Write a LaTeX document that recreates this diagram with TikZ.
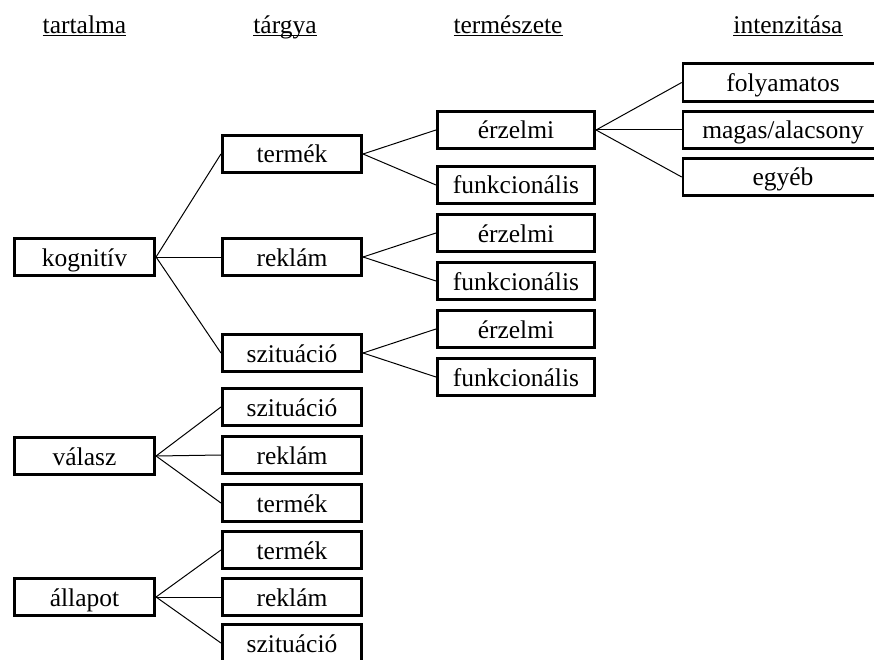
\documentclass[tikz,border=0pt]{standalone}
\usepackage{fontspec}
\setmainfont{Liberation Serif}
\usepackage{tikz}
\usetikzlibrary{arrows,shapes}
\tikzstyle{box}=[draw,rectangle,line width=2.6pt,minimum height=37.5pt,inner sep=0pt,text height=24pt,text depth=6pt,font=\fontsize{25.5}{30}\selectfont]
\tikzstyle{head}=[inner sep=0pt,anchor=base,font=\fontsize{25.5}{30}\selectfont]
\tikzstyle{edge} = [draw,line width=1pt,-]

\begin{document}
\begin{tikzpicture}[x=1pt,y=-1pt]
    \useasboundingbox (0,0) rectangle (874,660);
    % Headings of the four levels
    \node[head] (h1) at (84.5,34) {\underline{\smash{tartalma}}};
    \node[head] (h2) at (285,34) {\underline{\smash{tárgya}}};
    \node[head] (h3) at (508,34) {\underline{\smash{természete}}};
    \node[head] (h4) at (788,34) {\underline{\smash{intenzitása}}};
    % First column
    \foreach \pos/\name/\txt in {{(84.5,257)/k/kognitív}, {(84.5,456)/v/válasz}, {(84.5,597)/a/állapot}}
        \node[box,minimum width=140.5pt] (\name) at \pos {\txt};
    % Second column
    \foreach \pos/\name/\txt in {{(292,154)/t1/termék}, {(292,257)/r1/reklám}, {(292,353)/s1/szituáció},
        {(292,407)/s2/szituáció}, {(292,455)/r2/reklám}, {(292,503)/t2/termék},
        {(292,550)/t3/termék}, {(292,597)/r3/reklám}, {(292,643)/s3/szituáció}}
        \node[box,minimum width=139.5pt] (\name) at \pos {\txt};
    % Third column
    \foreach \pos/\name/\txt in {{(516,130)/e1/érzelmi}, {(516,185)/f1/funkcionális}, {(516,233)/e2/érzelmi},
        {(516,281)/f2/funkcionális}, {(516,329)/e3/érzelmi}, {(516,377)/f3/funkcionális}}
        \node[box,minimum width=157.5pt] (\name) at \pos {\txt};
    % Fourth column
    \foreach \pos/\name/\txt in {{(783,82.5)/i1/folyamatos}, {(783,130)/i2/{magas/alacsony}}, {(783,177)/i3/egyéb}}
        \node[box,minimum width=200pt] (\name) at \pos {\txt};
    % Connect boxes with edges
    \foreach \source/ \dest in {k/t1, k/r1, k/s1, t1/e1, t1/f1, r1/e2, r1/f2, s1/e3, s1/f3,
        e1/i1, e1/i2, e1/i3, v/s2, v/r2, v/t2, a/t3, a/r3, a/s3}
        \path[edge] (\source.east) -- (\dest.west);
\end{tikzpicture}
\end{document}
